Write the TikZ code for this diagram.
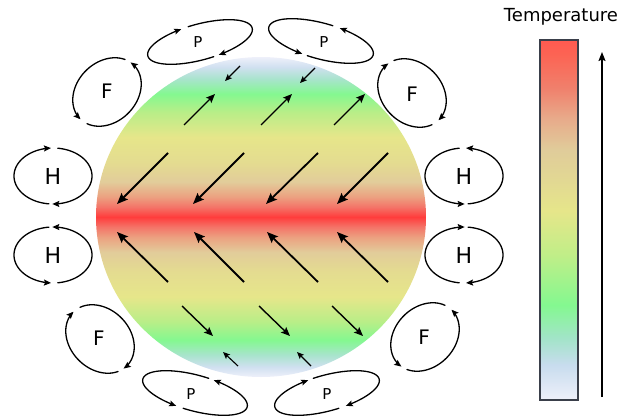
\documentclass[tikz,border=0pt]{standalone}
\usepackage{fontspec}
\setmainfont{DejaVu Sans}
\usetikzlibrary{arrows.meta}

% temperature palette
\definecolor{tPale}{HTML}{EEF0FA}
\definecolor{tLBlue}{HTML}{D0E0F0}
\definecolor{tTeal}{HTML}{A8E4CC}
\definecolor{tGreen}{HTML}{84F890}
\definecolor{tYGreen}{HTML}{B8EE88}
\definecolor{tYellow}{HTML}{E6E68A}
\definecolor{tKhaki}{HTML}{E4DC90}
\definecolor{tTan}{HTML}{E2CC9A}
\definecolor{tPeach}{HTML}{ECA080}
\definecolor{tSalmon}{HTML}{F47468}
\definecolor{tRed}{HTML}{FF3C3C}
\definecolor{bRed}{HTML}{FF5A50}
\definecolor{bRedB}{HTML}{FC6454}
\definecolor{bSalmon}{HTML}{F0806C}
\definecolor{bPeach}{HTML}{E8AA8A}
\definecolor{bTan}{HTML}{E0CC9A}
\definecolor{bKhaki}{HTML}{E2D893}
\definecolor{bYGreen}{HTML}{C0EE88}
\definecolor{bTeal}{HTML}{A2E4C8}
\definecolor{bLBlue}{HTML}{C8DCEE}
\definecolor{frameGray}{HTML}{3A3F4A}

% planet: warm equator, cool poles
\pgfdeclareverticalshading{planetband}{100bp}{%
  color(0bp)=(tPale); color(25bp)=(tPale); color(26.56bp)=(tLBlue);
  color(28.44bp)=(tTeal); color(30.78bp)=(tGreen); color(33.59bp)=(tYGreen);
  color(37.5bp)=(tYellow); color(41.41bp)=(tKhaki); color(44.53bp)=(tTan);
  color(46.87bp)=(tPeach); color(48.44bp)=(tSalmon); color(50bp)=(tRed);
  color(51.56bp)=(tSalmon); color(53.13bp)=(tPeach); color(55.47bp)=(tTan);
  color(58.59bp)=(tKhaki); color(62.5bp)=(tYellow); color(66.41bp)=(tYGreen);
  color(69.22bp)=(tGreen); color(71.56bp)=(tTeal); color(73.44bp)=(tLBlue);
  color(75bp)=(tPale); color(100bp)=(tPale)}

% colour scale bar, cold at the bottom
\pgfdeclareverticalshading{scalebar}{100bp}{%
  color(0bp)=(tPale); color(25bp)=(tPale); color(29.86bp)=(bLBlue);
  color(33.61bp)=(bTeal); color(38.19bp)=(tGreen); color(45.14bp)=(bYGreen);
  color(51.25bp)=(tYellow); color(55.56bp)=(bKhaki); color(59.72bp)=(bTan);
  color(64.17bp)=(bPeach); color(68.33bp)=(bSalmon); color(72.92bp)=(bRedB);
  color(75bp)=(bRed); color(100bp)=(bRed)}

\tikzset{
  windL/.style={line width=1.8pt,-{Stealth[length=11pt,width=9pt,inset=2pt]}},
  windM/.style={line width=1.4pt,-{Stealth[length=9pt,width=7.5pt,inset=1.8pt]}},
  windS/.style={line width=1.1pt,-{Stealth[length=7pt,width=6pt,inset=1.5pt]}},
  loopline/.style={line width=1.3pt,line cap=round},
  headend/.style={loopline,-{Stealth[length=7pt,width=6pt,inset=1.2pt]}},
  headstart/.style={loopline,{Stealth[length=7pt,width=6pt,inset=1.2pt]}-},
  lblH/.style={font=\fontsize{22}{24}\selectfont,inner sep=0pt},
  lblF/.style={font=\fontsize{20}{22}\selectfont,inner sep=0pt},
  lblP/.style={font=\fontsize{15}{17}\selectfont,inner sep=0pt},
}

% one half of a circulation loop: #1 style, #2 a, #3 b, #4 domain
\newcommand\halfloop[4]{%
  \draw[#1] plot[domain=#4,samples=60,variable=\t] ({#2*cos(\t)},{#3*sin(\t)});}

\begin{document}
\begin{tikzpicture}[x=1pt,y=-1pt]
\useasboundingbox (0,0) rectangle (621,420);

% planet
\shade[shading=planetband] (261,217) ellipse [x radius=165pt,y radius=160pt];

% winds, northern hemisphere
\draw[windS] (240,66) -- (225,81);
\draw[windS] (315,68) -- (300,83);
\draw[windM] (184,125) -- (215,94);
\draw[windM] (261,125) -- (292,94);
\draw[windM] (334,125) -- (365,94);
\draw[windL] (168,153) -- (117,204);
\draw[windL] (244,153) -- (193,204);
\draw[windL] (318,153) -- (266,204);
\draw[windL] (388,153) -- (337,204);
% winds, southern hemisphere
\draw[windL] (168,282) -- (117,232);
\draw[windL] (244,282) -- (194,232);
\draw[windL] (318,282) -- (267,232);
\draw[windL] (388,282) -- (337,232);
\draw[windM] (182,306) -- (213,336);
\draw[windM] (259,306) -- (290,336);
\draw[windM] (332,306) -- (363,336);
\draw[windS] (238,366) -- (223,352);
\draw[windS] (311,366) -- (297,352);

% Hadley cells
\begin{scope}[shift={(53,176)}]
  \halfloop{headend}{39}{28}{96:267}
  \halfloop{headend}{39}{28}{277:451}
\end{scope}
\node[lblH] (hNW) at (53,176) {H};
\begin{scope}[shift={(53,255)}]
  \halfloop{headstart}{39}{28}{93:264}
  \halfloop{headstart}{39}{28}{-91:83}
\end{scope}
\node[lblH] (hSW) at (53,255) {H};
\begin{scope}[shift={(464,176)}]
  \halfloop{headstart}{39}{28}{-87:84}
  \halfloop{headstart}{39}{28}{89:263}
\end{scope}
\node[lblH] (hNE) at (464,176) {H};
\begin{scope}[shift={(464,255)}]
  \halfloop{headend}{39}{28}{-84:87}
  \halfloop{headend}{39}{28}{97:271}
\end{scope}
\node[lblH] (hSE) at (464,255) {H};

% Ferrel cells
\begin{scope}[shift={(107,92)},rotate=45]
  \halfloop{headstart}{38}{30}{-8:164}
  \halfloop{headstart}{38}{30}{179:340}
\end{scope}
\node[lblF] (fNW) at (107,91) {F};
\begin{scope}[shift={(412,93)},rotate=-45]
  \halfloop{headend}{38}{30}{16:188}
  \halfloop{headend}{38}{30}{-160:1}
\end{scope}
\node[lblF] (fNE) at (412,94) {F};
\begin{scope}[shift={(100,339)},rotate=-45]
  \halfloop{headend}{38}{30}{-164:8}
  \halfloop{headend}{38}{30}{20:181}
\end{scope}
\node[lblF] (fSW) at (99,338) {F};
\begin{scope}[shift={(425,337)},rotate=45]
  \halfloop{headstart}{38}{30}{172:344}
  \halfloop{headstart}{38}{30}{359:520}
\end{scope}
\node[lblF] (fSE) at (424,337) {F};

% polar cells
\begin{scope}[shift={(200,42)},rotate=15]
  \halfloop{headend}{54}{18}{262:434}
  \halfloop{headend}{54}{18}{80:254}
\end{scope}
\node[lblP] (pNW) at (198,42) {P};
\begin{scope}[shift={(321,41)},rotate=-15]
  \halfloop{headstart}{54}{18}{106:278}
  \halfloop{headstart}{54}{18}{-74:100}
\end{scope}
\node[lblP] (pNE) at (324,42) {P};
\begin{scope}[shift={(195,393)},rotate=-15]
  \halfloop{headstart}{54}{18}{-74:98}
  \halfloop{headstart}{54}{18}{106:280}
\end{scope}
\node[lblP] (pSW) at (191,394) {P};
\begin{scope}[shift={(327,393)},rotate=15]
  \halfloop{headend}{54}{18}{82:254}
  \halfloop{headend}{54}{18}{260:434}
\end{scope}
\node[lblP] (pSE) at (327,394) {P};

% temperature scale
\node[font=\fontsize{18}{21}\selectfont,inner sep=0pt] (scaleTitle) at (561,17) {Temperature};
\shade[shading=scalebar] (540,40) rectangle (578,400);
\draw[frameGray,line width=1.2pt] (540,40) rectangle (578,400);
\coordinate (warmEnd) at (602,52);
\coordinate (coldEnd) at (602,397);
\draw[line width=1.3pt,-{Stealth[length=9pt,width=7pt,inset=1.5pt]}] (coldEnd) -- (warmEnd);
\end{tikzpicture}
\end{document}
